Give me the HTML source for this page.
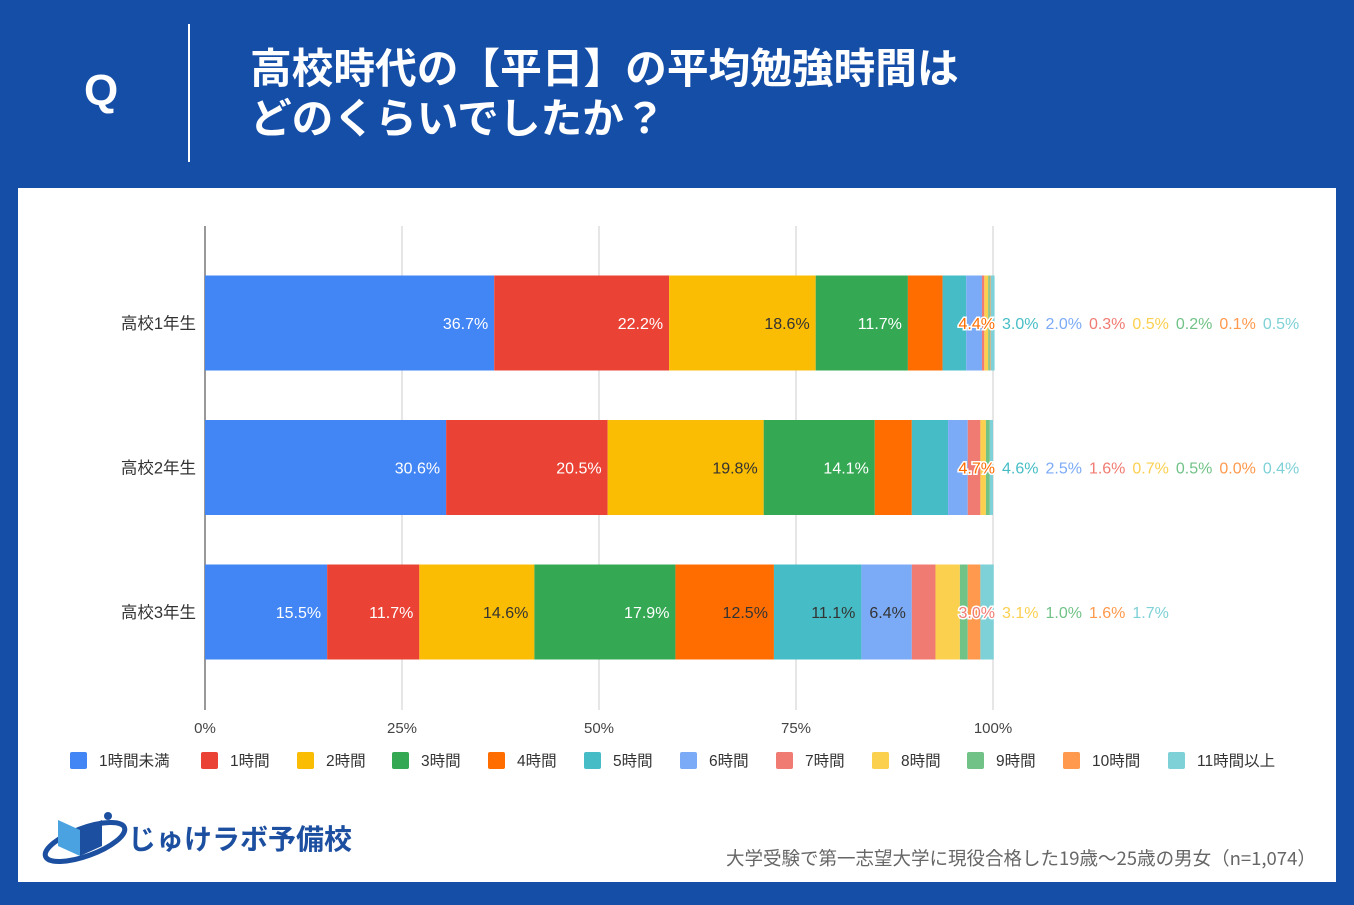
<!DOCTYPE html>
<html><head><meta charset="utf-8">
<style>
body{margin:0;width:1354px;height:905px;background:#154ea7;font-family:"Liberation Sans","Noto Sans CJK JP",sans-serif;overflow:hidden;position:relative}
.abs{position:absolute}
</style></head><body>
<div class="abs" style="left:84px;top:66px;color:#fff;font-size:44px;font-weight:bold">Q</div>
<div class="abs" style="left:188px;top:24px;width:2px;height:138px;background:#fff"></div>
<div class="abs" style="left:250px;top:41px;color:#fff;font-size:41.7px;font-weight:bold;line-height:50px;font-family:'Noto Sans CJK JP',sans-serif;white-space:nowrap">高校時代の【平日】の平均勉強時間は<br>どのくらいでしたか？</div>
<div class="abs" style="left:18px;top:188px;width:1318px;height:694px;background:#fff"></div>
<svg class="abs" style="left:0;top:0" width="1354" height="905" id="chart"></svg>
<div class="abs" style="left:726px;top:845px;color:#666;font-size:18.5px;font-family:'Noto Sans CJK JP',sans-serif;white-space:nowrap">大学受験で第一志望大学に現役合格した19歳～25歳の男女（n=1,074）</div>
<div class="abs" style="left:40px;top:808px;width:320px;height:60px">
<svg width="90" height="60" style="position:absolute;left:0;top:0"><ellipse cx="45" cy="34" rx="42" ry="14" fill="none" stroke="#1c4fa0" stroke-width="5" transform="rotate(-20 45 34)"/><path d="M18 12 L40 22 L40 48 L18 38Z" fill="#4aa3e0"/><path d="M62 12 L40 22 L40 48 L62 38Z" fill="#1c4fa0"/><circle cx="68" cy="8" r="4" fill="#1c4fa0"/></svg>
<div style="position:absolute;left:88px;top:10px;color:#1c4fa0;font-size:28px;font-weight:bold;font-family:'Noto Sans CJK JP',sans-serif;white-space:nowrap">じゅけラボ予備校</div>
</div>
<script>
const categories=["高校1年生","高校2年生","高校3年生"];
const seriesNames=["1時間未満","1時間","2時間","3時間","4時間","5時間","6時間","7時間","8時間","9時間","10時間","11時間以上"];
const row1=[36.7,22.2,18.6,11.7,4.4,3.0,2.0,0.3,0.5,0.2,0.1,0.5];
const row2=[30.6,20.5,19.8,14.1,4.7,4.6,2.5,1.6,0.7,0.5,0.0,0.4];
const row3=[15.5,11.7,14.6,17.9,12.5,11.1,6.4,3.0,3.1,1.0,1.6,1.7];
const ticks=[0,25,50,75,100];
const colors=["#4285f4","#ea4335","#fbbc04","#34a853","#ff6d01","#46bdc6","#7baaf7","#f07b72","#fcd04f","#71c287","#ff994d","#7ed1d7"];
const darkText=[false,false,true,false,true,true,true,true,true,true,true,true];
const rows=[row1,row2,row3];
const NS="http://www.w3.org/2000/svg";
const svg=document.getElementById('chart');
const x0=205,x1=993;
const xs=v=>x0+(x1-x0)*v/100;
const yc=i=>323+i*144.5;
const bh=95;
function mk(t,a){const e=document.createElementNS(NS,t);for(const k in a)e.setAttribute(k,a[k]);svg.appendChild(e);return e;}
ticks.forEach(t=>{
 const l=mk('line',{x1:xs(t),x2:xs(t),y1:226,y2:710,stroke:t==0?'#333':'#ccc','stroke-width':1});
 
 
 const tx=mk('text',{x:xs(t),y:733,'text-anchor':'middle','font-size':15,fill:'#444'});
 tx.textContent=t+'%';
 
 
});
rows.forEach((r,i)=>{
 const cl=mk('text',{x:196,y:yc(i)+6,'text-anchor':'end','font-size':16.5,fill:'#333'});
 cl.textContent=categories[i];
 
 
 let acc=0;const small=[];
 r.forEach((v,j)=>{
  const a=xs(acc),b=xs(acc+v);acc+=v;
  const rc=mk('rect',{x:a,y:yc(i)-bh/2,width:Math.max(0,b-a),height:bh,fill:colors[j]});
  
  
  if(v>=5){
   const t=mk('text',{x:b-6,y:yc(i)+6,'text-anchor':'end','font-size':16,fill:darkText[j]?'#333':'#fff'});
   t.textContent=v.toFixed(1)+'%';
   
   
  } else small.push(j);
 });
 let cx=null;
 small.forEach((j,k)=>{
  const t=mk('text',{y:yc(i)+6,'font-size':16,fill:colors[j]});
  t.textContent=r[j].toFixed(1)+'%';
  
  
  const w=t.getComputedTextLength();
  if(k==0){t.setAttribute('x',995-w);t.setAttribute('stroke','#fff');t.setAttribute('stroke-width','3');t.setAttribute('paint-order','stroke');cx=1002;}
  else{t.setAttribute('x',cx);cx+=w+7;}
 });
});
const lx=[70,201,297,392,488,584,680,776,872,967,1063,1168];
seriesNames.forEach((n,j)=>{
 const s=mk('rect',{x:lx[j],y:752,width:17,height:17,rx:2,fill:colors[j]});
 
 
 const t=mk('text',{x:lx[j]+29,y:766,'font-size':15.5,fill:'#333'});
 t.textContent=n;
 
 
});
</script>
</body></html>
